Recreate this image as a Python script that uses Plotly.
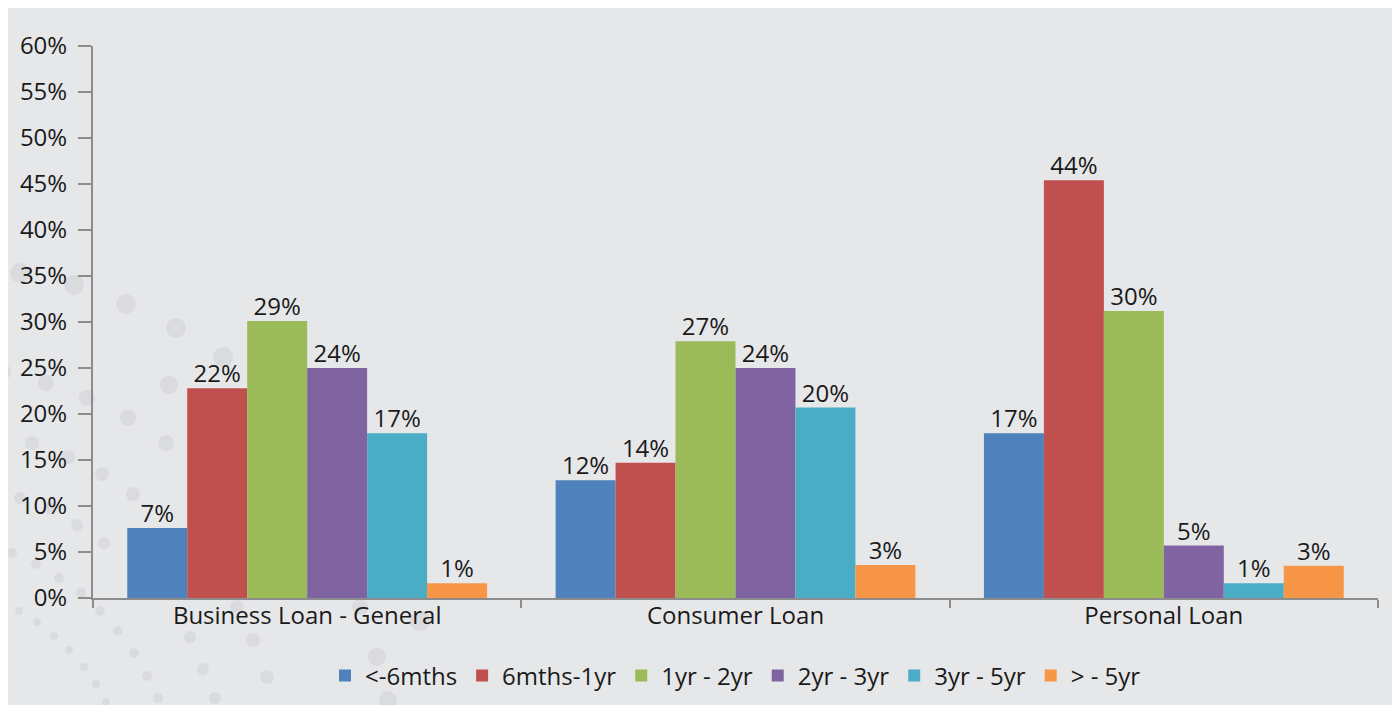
import plotly.graph_objects as go

categories = ["Business Loan - General", "Consumer Loan", "Personal Loan"]
series_names = ["<-6mths", "6mths-1yr", "1yr - 2yr", "2yr - 3yr", "3yr - 5yr", "> - 5yr"]
colors = ["#4f81bd", "#c0504d", "#9bbb59", "#8064a2", "#4bacc6", "#f79646"]

values = [
    [7.6, 12.8, 17.9],
    [22.8, 14.7, 45.4],
    [30.1, 27.9, 31.2],
    [25.0, 25.0, 5.7],
    [17.9, 20.7, 1.6],
    [1.6, 3.6, 3.5],
]
labels = [
    ["7%", "12%", "17%"],
    ["22%", "14%", "44%"],
    ["29%", "27%", "30%"],
    ["24%", "24%", "5%"],
    ["17%", "20%", "1%"],
    ["1%", "3%", "3%"],
]

y_ticks = [0, 5, 10, 15, 20, 25, 30, 35, 40, 45, 50, 55, 60]
y_tick_text = [f"{v}%" for v in y_ticks]

# decorative background dots (page pixel x, y, radius)
deco_dots = [
    (20, 273, 10), (74, 285, 10), (126, 304, 10), (176, 328, 10), (223, 357, 10),
    (3, 372, 8), (46, 383, 8), (169, 385, 9), (87, 398, 8), (128, 418, 8),
    (166, 443, 8), (32, 443, 7), (68, 457, 7), (102, 474, 7), (133, 494, 7),
    (0, 432, 7), (20, 498, 6), (50, 508, 6), (77, 525, 6), (104, 543, 6),
    (12, 553, 5), (36, 564, 5), (59, 578, 5), (81, 593, 5), (100, 611, 5),
    (0, 600, 5), (19, 611, 4), (37, 622, 4), (54, 636, 4), (69, 650, 4),
    (84, 667, 4), (96, 684, 4), (106, 702, 4), (118, 631, 5), (134, 653, 5),
    (147, 676, 5), (158, 698, 5), (190, 637, 6), (203, 669, 6), (215, 698, 6),
    (237, 607, 7), (253, 640, 7), (267, 677, 7), (360, 607, 8), (377, 657, 9),
    (388, 700, 9), (420, 621, 10),
]

FONT = "Open Sans"
BG = "#e6e7e9"
DOT = "#dadbde"
TXT = "#1a1a1a"
AX = "#8c8c8c"
GAP = 0.16

# page geometry (figure div sits at page offset 8,8)
PL, PR, PT, PB = 93, 1378, 46, 598
PW, PH = PR - PL, PB - PT


def px_x(x):
    return (x - PL) / PW


def px_y(y):
    return (PB - y) / PH


fig = go.Figure()
for name, col, vals in zip(series_names, colors, values):
    fig.add_trace(go.Bar(
        name=name, x=categories, y=vals, marker_color=col, marker_line_width=0,
        offsetgroup=name, hoverinfo="x+y",
    ))
for name, vals, labs in zip(series_names, values, labels):
    fig.add_trace(go.Scatter(
        x=categories, y=vals, text=labs, mode="text", textposition="top center",
        offsetgroup=name, showlegend=False, hoverinfo="skip", cliponaxis=False,
        textfont=dict(family=FONT, size=24, color=TXT),
    ))

shapes = [dict(type="rect", xref="paper", yref="paper",
               x0=px_x(4), x1=px_x(1396), y0=px_y(720), y1=px_y(8),
               fillcolor=BG, line_width=0, layer="below")]
for (cx, cy, r) in deco_dots:
    shapes.append(dict(type="circle", xref="paper", yref="paper",
                       x0=px_x(cx - r), x1=px_x(cx + r), y0=px_y(cy + r), y1=px_y(cy - r),
                       fillcolor=DOT, line_width=0, layer="below"))

fig.update_layout(
    width=1392, height=697,
    barmode="group", bargap=GAP, bargroupgap=0,
    scattermode="group", scattergap=GAP,
    paper_bgcolor="white", plot_bgcolor="rgba(0,0,0,0)",
    margin=dict(l=PL - 8, r=1400 - PR, t=PT - 8, b=705 - PB, autoexpand=False),
    font=dict(family=FONT, size=24, color=TXT),
    showlegend=True,
    legend=dict(orientation="h", x=0.5, xanchor="center", y=px_y(676), yanchor="middle",
                font=dict(family=FONT, size=24, color=TXT),
                bgcolor="rgba(0,0,0,0)", itemwidth=30, tracegroupgap=0),
    shapes=shapes,
)
fig.update_yaxes(range=[0, 60], tickvals=y_ticks, ticktext=y_tick_text,
                 showgrid=False, zeroline=False, showline=True, linecolor=AX,
                 linewidth=2, ticks="outside", ticklen=13, tickcolor=AX, tickwidth=2,
                 ticklabelstandoff=6,
                 tickfont=dict(family=FONT, size=24, color=TXT))
fig.update_xaxes(showgrid=False, showline=True, linecolor=AX, linewidth=2,
                 ticks="outside", tickson="boundaries", ticklen=8, tickcolor=AX,
                 tickwidth=2, ticklabelstandoff=-5,
                 tickfont=dict(family=FONT, size=24, color=TXT))

fig.write_html("out.html")
